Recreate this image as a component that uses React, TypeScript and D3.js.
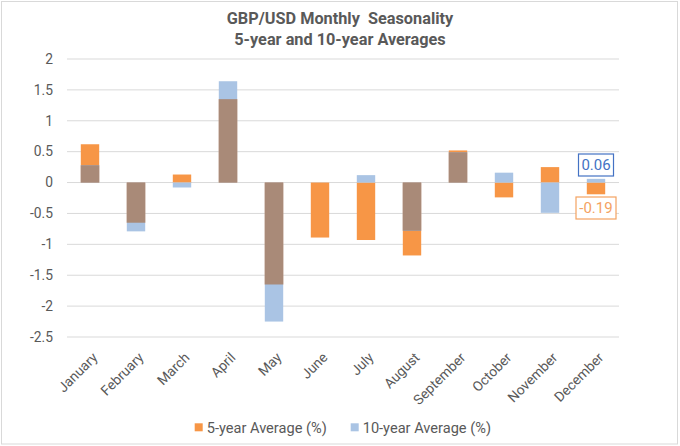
import React from "react";
import * as d3 from "d3";

const months = ["January","February","March","April","May","June","July","August","September","October","November","December"];
const fiveYear = [0.62,-0.65,0.13,1.35,-1.65,-0.89,-0.93,-1.18,0.52,-0.24,0.25,-0.19];
const tenYear = [0.28,-0.79,-0.08,1.64,-2.25,0.0,0.12,-0.78,0.49,0.16,-0.49,0.06];
const yTicks = [2,1.5,1,0.5,0,-0.5,-1,-1.5,-2,-2.5];
const titleLines = ["GBP/USD Monthly  Seasonality","5-year and 10-year Averages"];
const legendLabels = ["5-year Average (%)","10-year Average (%)"];

const W = 680, H = 446;
const ORANGE = "#F79646";
const BLUE = "#AAC4E4";
const BROWN = "#A98A78";
const TXT = "#595959";
const FONT = "Roboto, 'Noto Sans', sans-serif";

export default function App() {
  const x = d3.scaleBand<string>().domain(months).range([67, 619]).paddingInner(0.6).paddingOuter(0.3);
  const y = d3.scaleLinear().domain([-2.5, 2]).range([337, 59]);
  const bw = x.bandwidth();
  const rect = (v: number) => ({ y: Math.min(y(v), y(0)), h: Math.abs(y(v) - y(0)) });
  const overlap = fiveYear.map((a, i) => {
    const b = tenYear[i];
    if (a * b <= 0) return 0;
    return a > 0 ? Math.min(a, b) : Math.max(a, b);
  });
  const last = months.length - 1;
  const cxLast = (x(months[last]) as number) + bw / 2;
  const fmt = (v: number) => v.toFixed(2);
  return (
    <div style={{ position: "absolute", left: 0, top: 0 }}>
      <svg width={W} height={H} style={{ display: "block", fontFamily: FONT }}>
        <rect x={0} y={0} width={W} height={H} fill="#fff" />
        <rect x={1.5} y={1.5} width={W - 4} height={H - 3.5} fill="none" stroke="#D9D9D9" strokeWidth={1} />
        {titleLines.map((t, i) => (
          <text key={t} x={340} y={24 + i * 21} textAnchor="middle" fontSize={16.3} fontWeight="bold" fill={TXT} style={{ whiteSpace: "pre" }}>{t}</text>
        ))}
        {yTicks.map((t) => (
          <g key={t}>
            <line x1={67} x2={619} y1={y(t)} y2={y(t)} stroke="#D9D9D9" strokeWidth={1} />
            <text x={53} y={y(t)} dy="0.35em" textAnchor="end" fontSize={13.8} fill={TXT}>{t}</text>
          </g>
        ))}
        {fiveYear.map((v, i) => {
          const r = rect(v);
          return <rect key={"o" + i} x={x(months[i])} y={r.y} width={bw} height={r.h} fill={ORANGE} />;
        })}
        {tenYear.map((v, i) => {
          const r = rect(v);
          return <rect key={"b" + i} x={x(months[i])} y={r.y} width={bw} height={r.h} fill={BLUE} />;
        })}
        {overlap.map((v, i) => {
          const r = rect(v);
          return <rect key={"w" + i} x={x(months[i])} y={r.y} width={bw} height={r.h} fill={BROWN} />;
        })}
        {months.map((m) => {
          const cx = (x(m) as number) + bw / 2;
          return (
            <text key={m} transform={`translate(${cx + 5},${355}) rotate(-45)`} textAnchor="end" dy="0.35em" fontSize={13.8} fill={TXT}>{m}</text>
          );
        })}
        <g>
          <rect x={cxLast - 17.5} y={154} width={35} height={22} fill="#fff" stroke="#4472C4" strokeWidth={1.2} />
          <text x={cxLast} y={165} dy="0.36em" textAnchor="middle" fontSize={15} fill="#4472C4">{fmt(tenYear[last])}</text>
          <rect x={cxLast - 20} y={197} width={40} height={22} fill="#fff" stroke="#F4A261" strokeWidth={1.2} />
          <text x={cxLast} y={208} dy="0.36em" textAnchor="middle" fontSize={15} fill="#F4A261">{fmt(fiveYear[last])}</text>
        </g>
        <g fontSize={14.6} fill={TXT}>
          <rect x={194.7} y={423.3} width={8} height={8} fill={ORANGE} />
          <text x={206.7} y={427.3} dy="0.36em">{legendLabels[0]}</text>
          <rect x={350.7} y={423.3} width={8} height={8} fill={BLUE} />
          <text x={362.7} y={427.3} dy="0.36em">{legendLabels[1]}</text>
        </g>
      </svg>
    </div>
  );
}
